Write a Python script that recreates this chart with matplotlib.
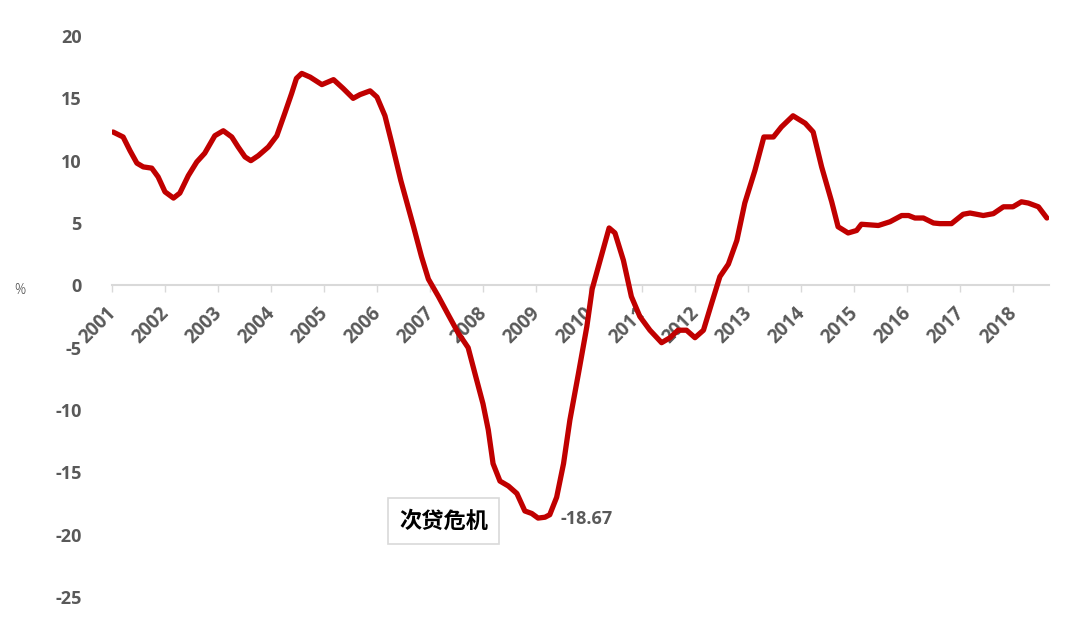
import numpy as np
import matplotlib
matplotlib.use("Agg")
import matplotlib.pyplot as plt
import matplotlib.transforms as mtransforms

# decimal year and year-on-year change (%)
years = [2001.02, 2001.21, 2001.34, 2001.47, 2001.59, 2001.75, 2001.87, 2002.00, 2002.16, 2002.28,
         2002.44, 2002.60, 2002.75, 2002.94, 2003.10, 2003.26, 2003.38, 2003.51, 2003.62, 2003.76,
         2003.95, 2004.11, 2004.26, 2004.39, 2004.48, 2004.58, 2004.74, 2004.96, 2005.18, 2005.36,
         2005.55, 2005.68, 2005.87, 2006.00, 2006.15, 2006.28, 2006.45, 2006.69, 2006.84, 2006.97,
         2007.16, 2007.35, 2007.53, 2007.72, 2007.85, 2008.00, 2008.10, 2008.19, 2008.32, 2008.48,
         2008.64, 2008.79, 2008.92, 2009.04, 2009.17, 2009.26, 2009.39, 2009.52, 2009.64, 2009.80,
         2009.96, 2010.06, 2010.21, 2010.38, 2010.49, 2010.65, 2010.80, 2010.96, 2011.15, 2011.37,
         2011.53, 2011.68, 2011.84, 2012.00, 2012.16, 2012.31, 2012.47, 2012.63, 2012.79, 2012.94,
         2013.13, 2013.30, 2013.48, 2013.63, 2013.85, 2014.08, 2014.23, 2014.39, 2014.58, 2014.70,
         2014.89, 2015.05, 2015.14, 2015.46, 2015.68, 2015.90, 2016.03, 2016.15, 2016.31, 2016.50,
         2016.62, 2016.84, 2017.06, 2017.19, 2017.44, 2017.63, 2017.82, 2018.00, 2018.16, 2018.29,
         2018.48, 2018.64]
values = [12.3, 11.9, 10.8, 9.8, 9.5, 9.4, 8.7, 7.5, 7.0, 7.4,
          8.8, 9.9, 10.6, 12.0, 12.4, 11.9, 11.1, 10.3, 10.0, 10.4,
          11.1, 12.0, 13.8, 15.4, 16.6, 17.0, 16.7, 16.1, 16.5, 15.8,
          15.0, 15.3, 15.6, 15.1, 13.6, 11.4, 8.4, 4.7, 2.3, 0.5,
          -0.9, -2.4, -3.8, -5.0, -7.1, -9.5, -11.6, -14.3, -15.7, -16.1,
          -16.7, -18.1, -18.3, -18.67, -18.6, -18.4, -17.0, -14.3, -10.8, -7.1,
          -3.3, -0.3, 2.0, 4.6, 4.2, 2.0, -0.9, -2.5, -3.6, -4.6,
          -4.2, -3.6, -3.6, -4.2, -3.6, -1.5, 0.7, 1.7, 3.6, 6.6,
          9.2, 11.9, 11.9, 12.7, 13.6, 13.0, 12.3, 9.5, 6.7, 4.7,
          4.2, 4.4, 4.9, 4.8, 5.1, 5.6, 5.6, 5.4, 5.4, 5.0,
          4.95, 4.95, 5.7, 5.8, 5.6, 5.75, 6.3, 6.3, 6.7, 6.6,
          6.3, 5.4]

tick_years = list(range(2001, 2019))
y_ticks = [20, 15, 10, 5, 0, -5, -10, -15, -20, -25]

min_year = 2009.04
min_value = -18.67
note_text = "次贷危机"

plt.rcParams['font.family'] = ['Open Sans', 'Noto Sans CJK SC', 'DejaVu Sans']
grey = '#595959'

fig = plt.figure(figsize=(10.8, 6.17), dpi=100)
ax = fig.add_axes([112 / 1080, 1 - 597 / 617, (1049 - 112) / 1080, (597 - 36) / 617])

ax.plot(years, values, color='#c00000', lw=3.8, solid_joinstyle='round', solid_capstyle='round', zorder=3)

# spine position first: it resets the tick objects
for side in ['left', 'right', 'top']:
    ax.spines[side].set_visible(False)
ax.spines['bottom'].set_position(('data', 0))
ax.spines['bottom'].set_color('#d9d9d9')
ax.spines['bottom'].set_linewidth(1.5)

ax.set_xlim(2001, 2018.68)
ax.set_ylim(-25, 20)
ax.tick_params(axis='y', length=0, pad=22)
ax.tick_params(axis='x', length=5, width=1, color='#d9d9d9', pad=4)

ax.set_yticks(y_ticks)
ax.set_yticklabels([str(v) for v in y_ticks], fontsize=13, fontweight='bold', color=grey)
ax.set_xticks(tick_years)
ax.set_xticklabels([str(y) for y in tick_years], rotation=45, ha='right', fontsize=13.5,
                   fontweight='bold', color=grey)
offset = mtransforms.ScaledTranslation(8 / 100, -5 / 100, fig.dpi_scale_trans)
for lbl in ax.get_xticklabels():
    lbl.set_transform(lbl.get_transform() + offset)

fig.text(20 / 1080, 1 - 290 / 617, '%', fontsize=10, color='#404040', ha='center', va='center',
         fontweight='light')

ax.annotate(f"{min_value:.2f}", xy=(min_year, min_value), xytext=(16, -1), textcoords='offset points',
            ha='left', va='center', fontsize=13, fontweight='bold', color=grey)

ax.text(2007.26, -18.9, note_text, ha='center', va='center', fontsize=16, fontweight='bold',
        color='black', family=['Noto Sans CJK SC', 'DejaVu Sans'],
        bbox=dict(boxstyle='square,pad=0.5', facecolor='white', edgecolor='#d9d9d9', linewidth=1.2))

fig.savefig('out.png', dpi=100)
